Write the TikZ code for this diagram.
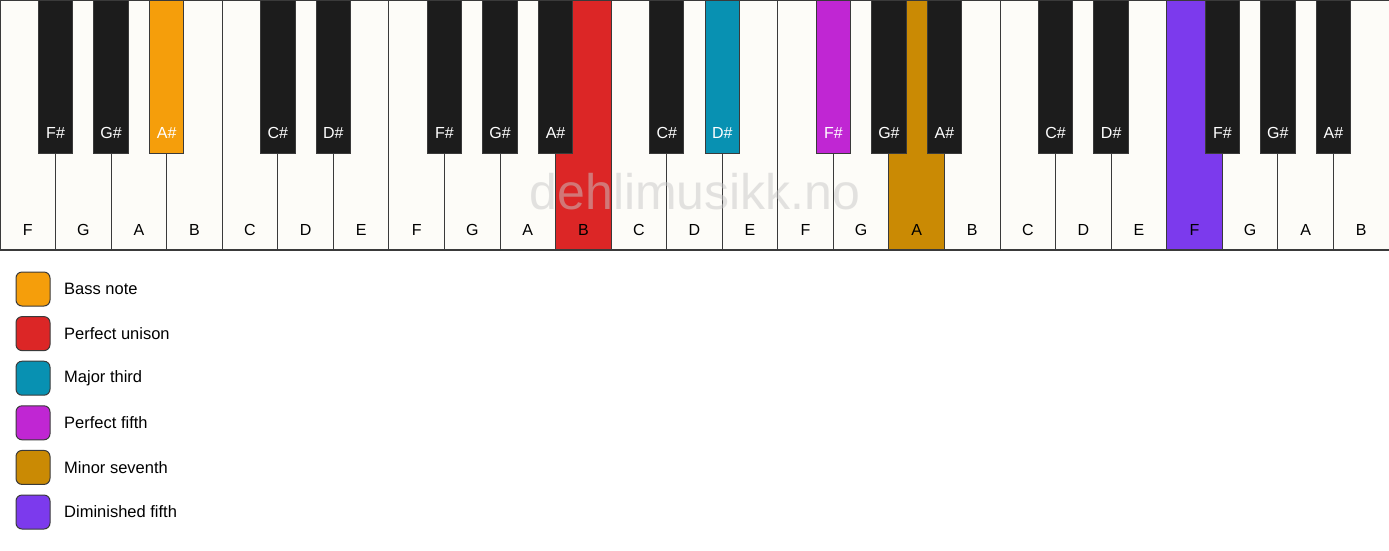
\documentclass[tikz,border=0pt]{standalone}
\usepackage{fontspec}
\setmainfont{Liberation Sans}
\usepackage{tikz}
\usetikzlibrary{positioning}
\definecolor{ivory}{HTML}{FDFCF8}
\definecolor{keyblack}{HTML}{1C1C1C}
\definecolor{keyedge}{HTML}{3A3A3A}
\definecolor{bassnote}{HTML}{F59E0B}
\definecolor{unison}{HTML}{DC2626}
\definecolor{majthird}{HTML}{0891B2}
\definecolor{perffifth}{HTML}{C026D3}
\definecolor{minseventh}{HTML}{CA8A04}
\definecolor{dimfifth}{HTML}{7C3AED}
\definecolor{markgray}{HTML}{C8C8C8}

\begin{document}
\begin{tikzpicture}[x=1pt,y=-1pt]
  \tikzstyle{whitekey}=[draw=keyedge,line width=1pt,anchor=north west,minimum width=55.56pt,minimum height=250pt,inner sep=0pt,outer sep=0pt]
  \tikzstyle{blackkey}=[draw=keyedge,line width=1pt,anchor=north,minimum width=34.5pt,minimum height=153pt,inner sep=0pt,outer sep=0pt]
  \tikzstyle{wlabel}=[font=\fontsize{16}{19}\selectfont,text=black]
  \tikzstyle{blabel}=[font=\fontsize{16}{19}\selectfont,text=white]
  \tikzstyle{swatch}=[draw=keyedge,line width=1pt,rounded corners=6pt,minimum size=34pt,inner sep=0pt]
  \tikzstyle{legendtext}=[font=\fontsize{16.5}{20}\selectfont,anchor=west,inner sep=0pt]
  \tikzstyle{watermark}=[font=\fontsize{50}{60}\selectfont,text=markgray,text opacity=0.5,anchor=base]

  \useasboundingbox (0,0) rectangle (1389,550);

  % white keys
  \foreach \n/\c [count=\i from 0] in {F/ivory,G/ivory,A/ivory,B/ivory,C/ivory,D/ivory,E/ivory,
      F/ivory,G/ivory,A/ivory,B/unison,C/ivory,D/ivory,E/ivory,
      F/ivory,G/ivory,A/minseventh,B/ivory,C/ivory,D/ivory,E/ivory,
      F/dimfifth,G/ivory,A/ivory,B/ivory}
  {
    \node[whitekey,fill=\c] (w\i) at (\i*55.56,0) {};
    \node[wlabel] (lw\i) at ([yshift=20pt]w\i.south) {\n};
  }
  \draw[keyedge,line width=1.5pt] (w0.south west) -- (w24.south east);

  \node[watermark] (mark) at (695,209) {dehlimusikk.no};

  % black keys
  \foreach \b/\n/\c in {1/F\#/keyblack,2/G\#/keyblack,3/A\#/bassnote,5/C\#/keyblack,6/D\#/keyblack,
      8/F\#/keyblack,9/G\#/keyblack,10/A\#/keyblack,12/C\#/keyblack,13/D\#/majthird,
      15/F\#/perffifth,16/G\#/keyblack,17/A\#/keyblack,19/C\#/keyblack,20/D\#/keyblack,
      22/F\#/keyblack,23/G\#/keyblack,24/A\#/keyblack}
  {
    \node[blackkey,fill=\c] (b\b) at (\b*55.56,0) {};
    \node[blabel] (lb\b) at ([yshift=20pt]b\b.south) {\n};
  }

  % legend
  \foreach \c/\t [count=\k from 0] in {bassnote/Bass note,unison/Perfect unison,majthird/Major third,
      perffifth/Perfect fifth,minseventh/Minor seventh,dimfifth/Diminished fifth}
  {
    \node[swatch,fill=\c] (s\k) at (33,289+\k*44.6) {};
    \node[legendtext,right=13.5pt of s\k] (t\k) {\t};
  }
\end{tikzpicture}
\end{document}
